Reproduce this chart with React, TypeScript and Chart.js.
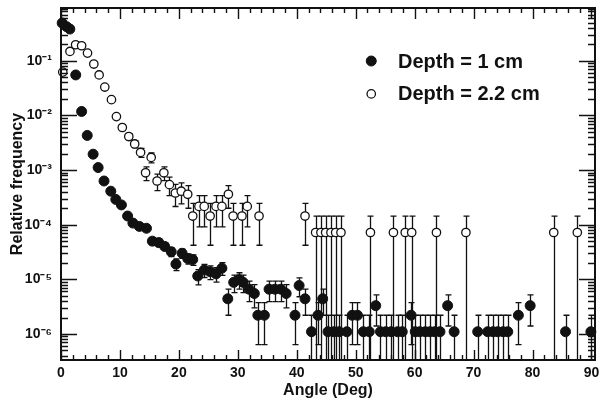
import React, { useEffect, useRef } from "react";
import { Chart, registerables } from "chart.js";

Chart.register(...registerables);

// ---------- Data ----------
const seriesNames = ["Depth = 1 cm", "Depth = 2.2 cm"];

const depth1Angle = [
  0.2, 0.95, 1.5, 2.5, 3.5, 4.45, 5.45, 6.3, 7.3, 8.45, 9.3, 10.25, 11.3, 12.2, 13.3, 14.5,
  15.5, 16.6, 17.6, 18.7, 19.5, 20.55, 21.5, 22.35, 23.2, 24.3, 25.3, 26.3, 27.3, 28.3,
  29.3, 30.2, 30.9, 31.9, 32.8, 33.4, 34.5, 35.3, 36.3, 37.3, 38.2, 39.7, 40.4, 41.4,
  42.5, 43.6, 44.4, 45.3, 46.3, 47.2, 48.5, 49.4, 50.3, 51.3, 52.3, 53.4, 54.2, 55.1,
  56.0, 57.1, 57.9, 59.4, 60.1, 60.9, 61.8, 62.6, 63.4, 64.3, 65.6, 66.7, 70.7, 72.4,
  73.3, 74.1, 75.0, 75.8, 77.6, 79.6, 85.6, 89.9,
];
const depth1Freq = [
  0.49, 0.42, 0.38, 0.055, 0.0118, 0.0043, 0.00195, 0.00111, 6.3e-4, 4.1e-4, 2.9e-4, 2.3e-4,
  1.44e-4, 1.07e-4, 9.3e-5, 8.6e-5, 5.0e-5, 4.7e-5, 4.0e-5, 3.2e-5, 1.9e-5, 3.0e-5, 2.4e-5,
  2.3e-5, 1.15e-5, 1.48e-5, 1.38e-5, 1.26e-5, 1.6e-5, 4.4e-6, 8.8e-6, 9.9e-6, 8.8e-6, 6.6e-6,
  5.5e-6, 2.2e-6, 2.2e-6, 6.6e-6, 6.6e-6, 6.6e-6, 5.5e-6, 2.2e-6, 7.7e-6, 4.4e-6, 1.1e-6,
  2.2e-6, 4.4e-6, 1.1e-6, 1.1e-6, 1.1e-6, 1.1e-6, 2.2e-6, 2.2e-6, 1.1e-6, 1.1e-6, 3.3e-6,
  1.1e-6, 1.1e-6, 1.1e-6, 1.1e-6, 1.1e-6, 2.2e-6, 1.1e-6, 1.1e-6, 1.1e-6, 1.1e-6, 1.1e-6,
  1.1e-6, 3.3e-6, 1.1e-6, 1.1e-6, 1.1e-6, 1.1e-6, 1.1e-6, 1.1e-6, 1.1e-6, 2.2e-6, 3.3e-6,
  1.1e-6, 1.1e-6,
];
const depth1Err = [
  7.3e-4, 6.8e-4, 6.5e-4, 2.5e-4, 1.1e-4, 6.9e-5, 4.6e-5, 3.5e-5, 2.6e-5, 2.1e-5, 1.8e-5, 1.6e-5,
  1.26e-5, 1.08e-5, 1.01e-5, 9.7e-6, 7.4e-6, 7.2e-6, 6.6e-6, 5.9e-6, 4.6e-6, 5.7e-6, 5.1e-6,
  5.0e-6, 3.6e-6, 4.0e-6, 3.9e-6, 3.7e-6, 4.2e-6, 2.2e-6, 3.1e-6, 3.3e-6, 3.1e-6, 2.7e-6,
  2.5e-6, 1.56e-6, 1.56e-6, 2.7e-6, 2.7e-6, 2.7e-6, 2.5e-6, 1.56e-6, 2.9e-6, 2.2e-6, 1.1e-6,
  1.56e-6, 2.2e-6, 1.1e-6, 1.1e-6, 1.1e-6, 1.1e-6, 1.56e-6, 1.56e-6, 1.1e-6, 1.1e-6, 1.9e-6,
  1.1e-6, 1.1e-6, 1.1e-6, 1.1e-6, 1.1e-6, 1.56e-6, 1.1e-6, 1.1e-6, 1.1e-6, 1.1e-6, 1.1e-6,
  1.1e-6, 1.9e-6, 1.1e-6, 1.1e-6, 1.1e-6, 1.1e-6, 1.1e-6, 1.1e-6, 1.1e-6, 1.56e-6, 1.9e-6,
  1.1e-6, 1.1e-6,
];

const depth2Angle = [
  0.3, 1.52, 2.48, 3.5, 4.5, 5.57, 6.47, 7.43, 8.56, 9.4, 10.4, 11.5, 12.5, 13.5, 14.35, 15.3,
  16.3, 17.45, 18.4, 19.4, 20.4, 21.5, 22.35, 23.4, 24.3, 25.3, 26.3, 27.3, 28.4, 29.2, 30.7,
  31.6, 33.6, 41.4, 43.2, 44.1, 44.9, 45.8, 46.6, 47.5, 52.5, 56.4, 58.4, 59.5, 63.7, 68.7,
  83.6, 87.6,
];
const depth2Freq = [
  0.062, 0.148, 0.196, 0.188, 0.138, 0.087, 0.055, 0.033, 0.0194, 0.0095, 0.006, 0.0041, 0.003,
  0.0021, 8.9e-4, 0.0017, 6.3e-4, 8.9e-4, 5.4e-4, 3.8e-4, 4.1e-4, 3.6e-4, 1.44e-4, 2.16e-4,
  2.16e-4, 1.44e-4, 2.16e-4, 2.16e-4, 3.6e-4, 1.44e-4, 1.44e-4, 2.16e-4, 1.44e-4, 1.44e-4,
  7.2e-5, 7.2e-5, 7.2e-5, 7.2e-5, 7.2e-5, 7.2e-5, 7.2e-5, 7.2e-5, 7.2e-5, 7.2e-5, 7.2e-5,
  7.2e-5, 7.2e-5, 7.2e-5,
];
const depth2Err = [
  2.1e-3, 3.3e-3, 3.8e-3, 3.7e-3, 3.2e-3, 2.5e-3, 2.0e-3, 1.54e-3, 1.18e-3, 8.3e-4, 6.6e-4,
  5.4e-4, 4.6e-4, 3.9e-4, 2.5e-4, 3.5e-4, 2.1e-4, 2.5e-4, 2.0e-4, 1.65e-4, 1.7e-4, 1.6e-4,
  1.02e-4, 1.25e-4, 1.25e-4, 1.02e-4, 1.25e-4, 1.25e-4, 1.6e-4, 1.02e-4, 1.02e-4, 1.25e-4,
  1.02e-4, 1.02e-4, 7.2e-5, 7.2e-5, 7.2e-5, 7.2e-5, 7.2e-5, 7.2e-5, 7.2e-5, 7.2e-5, 7.2e-5,
  7.2e-5, 7.2e-5, 7.2e-5, 7.2e-5, 7.2e-5,
];

const xTickValues = [0, 10, 20, 30, 40, 50, 60, 70, 80, 90];
const xTickLabels = ["0", "10", "20", "30", "40", "50", "60", "70", "80", "90"];
const yTickValues = [1e-1, 1e-2, 1e-3, 1e-4, 1e-5, 1e-6];
const yTickLabels = ["10⁻¹", "10⁻²", "10⁻³", "10⁻⁴", "10⁻⁵", "10⁻⁶"];

const xTitle = "Angle (Deg)";
const yTitle = "Relative frequency";

const FONT = "'Liberation Sans', Arial, Helvetica, sans-serif";
const INK = "#111111";

const errorsByDataset = [depth1Err, depth2Err];

const errorBarPlugin = {
  id: "errorBars",
  beforeDatasetsDraw(chart: any) {
    const { ctx, chartArea } = chart;
    const xs = chart.scales.x;
    const ys = chart.scales.y;
    ctx.save();
    ctx.beginPath();
    ctx.rect(chartArea.left, chartArea.top, chartArea.right - chartArea.left, chartArea.bottom - chartArea.top);
    ctx.clip();
    ctx.strokeStyle = INK;
    ctx.lineWidth = 1.3;
    chart.data.datasets.forEach((ds: any, di: number) => {
      const errs = errorsByDataset[di];
      ds.data.forEach((p: any, i: number) => {
        const e = errs[i];
        if (!e) return;
        const px = Math.round(xs.getPixelForValue(p.x)) + 0.5;
        const hi = p.y + e;
        const lo = p.y - e;
        const yHi = ys.getPixelForValue(hi);
        const loValid = lo > ys.min * 1.0001;
        const yLo = loValid ? ys.getPixelForValue(lo) : chartArea.bottom;
        ctx.beginPath();
        ctx.moveTo(px, yHi);
        ctx.lineTo(px, yLo);
        ctx.moveTo(px - 3, yHi);
        ctx.lineTo(px + 3, yHi);
        if (loValid) {
          ctx.moveTo(px - 3, yLo);
          ctx.lineTo(px + 3, yLo);
        }
        ctx.stroke();
      });
    });
    ctx.restore();
  },
};

const framePlugin = {
  id: "frameTicks",
  afterDatasetsDraw(chart: any) {
    const { ctx, chartArea } = chart;
    const { left, right, top, bottom } = chartArea;
    const xs = chart.scales.x;
    const ys = chart.scales.y;
    ctx.save();
    ctx.strokeStyle = INK;
    ctx.lineWidth = 1.4;
    ctx.beginPath();
    xs.ticks.forEach((t: any) => {
      const px = Math.round(xs.getPixelForValue(t.value)) + 0.5;
      const len = t.major ? 10 : 5;
      ctx.moveTo(px, bottom);
      ctx.lineTo(px, bottom - len);
      ctx.moveTo(px, top);
      ctx.lineTo(px, top + len + (t.major ? 1 : 0));
    });
    ys.ticks.forEach((t: any) => {
      const py = Math.round(ys.getPixelForValue(t.value)) + 0.5;
      if (py < top || py > bottom) return;
      const len = t.major ? 16 : 7;
      ctx.moveTo(left, py);
      ctx.lineTo(left + len, py);
      ctx.moveTo(right, py);
      ctx.lineTo(right - len, py);
    });
    ctx.stroke();
    ctx.lineWidth = 2;
    ctx.strokeRect(left, top, right - left, bottom - top);
    ctx.restore();
  },
};

const legendPlugin = {
  id: "insideLegend",
  afterDraw(chart: any) {
    const { ctx, chartArea } = chart;
    const w = chartArea.right - chartArea.left;
    const h = chartArea.bottom - chartArea.top;
    const mx = chartArea.left + w * 0.581;
    const tx = chartArea.left + w * 0.631;
    const rows = [chartArea.top + h * 0.1506, chartArea.top + h * 0.244];
    ctx.save();
    rows.forEach((y, i) => {
      ctx.beginPath();
      ctx.arc(mx, y, i === 0 ? 5 : 4.2, 0, Math.PI * 2);
      ctx.fillStyle = i === 0 ? INK : "#ffffff";
      ctx.fill();
      ctx.lineWidth = i === 0 ? 1 : 1.3;
      ctx.strokeStyle = INK;
      ctx.stroke();
      ctx.fillStyle = INK;
      ctx.font = `bold 20px ${FONT}`;
      ctx.textAlign = "left";
      ctx.textBaseline = "middle";
      ctx.fillText(seriesNames[i], tx, y + 1);
    });
    ctx.restore();
  },
};

function labelFor(values: number[], labels: string[], v: number): string {
  for (let i = 0; i < values.length; i++) {
    const t = values[i];
    if (t === 0 ? Math.abs(v) < 1e-9 : Math.abs(v / t - 1) < 1e-6) return labels[i];
  }
  return "";
}

export default function App() {
  const canvasRef = useRef<HTMLCanvasElement>(null);

  useEffect(() => {
    const canvas = canvasRef.current;
    if (!canvas) return;
    const chart = new Chart(canvas, {
      type: "scatter",
      data: {
        datasets: [
          {
            label: seriesNames[0],
            data: depth1Angle.map((x, i) => ({ x, y: depth1Freq[i] })),
            pointStyle: "circle",
            pointRadius: 5,
            pointBorderWidth: 1,
            pointBackgroundColor: INK,
            pointBorderColor: INK,
            showLine: false,
            clip: false as any,
          },
          {
            label: seriesNames[1],
            data: depth2Angle.map((x, i) => ({ x, y: depth2Freq[i] })),
            pointStyle: "circle",
            pointRadius: 4.2,
            pointBorderWidth: 1.3,
            pointBackgroundColor: "#ffffff",
            pointBorderColor: INK,
            showLine: false,
            clip: false as any,
          },
        ],
      },
      options: {
        animation: false,
        responsive: true,
        maintainAspectRatio: false,
        layout: { padding: { top: 8, right: 3, left: 0, bottom: 0 } },
        plugins: { legend: { display: false }, tooltip: { enabled: false } },
        events: [],
        scales: {
          x: {
            type: "linear",
            min: 0,
            max: 90.6,
            afterBuildTicks: (scale: any) => {
              const ticks: any[] = [];
              for (let v = 0; v <= 90; v += 2) ticks.push({ value: v, major: v % 10 === 0 });
              scale.ticks = ticks;
            },
            afterFit: (scale: any) => {
              scale.height = 41;
              scale.paddingLeft = 0;
              scale.paddingRight = 0;
            },
            grid: { display: false, drawTicks: false },
            border: { display: false },
            ticks: {
              autoSkip: false,
              maxRotation: 0,
              padding: 5,
              color: INK,
              font: { family: FONT, size: 14, weight: "bold" },
              callback: (v: any) => labelFor(xTickValues, xTickLabels, Number(v)),
            },
            title: {
              display: true,
              text: xTitle,
              color: INK,
              font: { family: FONT, size: 16, weight: "bold" },
              padding: { top: 0, bottom: 1 },
            },
          },
          y: {
            type: "logarithmic",
            min: 3.34e-7,
            max: 0.923,
            afterBuildTicks: (scale: any) => {
              const ticks: any[] = [];
              for (let e = -7; e <= 0; e++) {
                for (let s = 1; s <= 9; s++) {
                  const v = s * Math.pow(10, e);
                  if (v >= scale.min && v <= scale.max) ticks.push({ value: v, major: s === 1 });
                }
              }
              scale.ticks = ticks;
            },
            afterFit: (scale: any) => {
              scale.width = 61;
              scale.paddingTop = 0;
              scale.paddingBottom = 0;
            },
            grid: { display: false, drawTicks: false },
            border: { display: false },
            ticks: {
              autoSkip: false,
              padding: 9,
              color: INK,
              font: { family: FONT, size: 14, weight: "bold" },
              callback: (v: any) => labelFor(yTickValues, yTickLabels, Number(v)),
            },
            title: {
              display: true,
              text: yTitle,
              color: INK,
              font: { family: FONT, size: 16, weight: "bold" },
              padding: { top: 8, bottom: 0 },
            },
          },
        },
      } as any,
      plugins: [errorBarPlugin, framePlugin, legendPlugin],
    });
    return () => chart.destroy();
  }, []);

  return (
    <div style={{ position: "fixed", left: 0, top: 0, width: 601, height: 401, background: "#ffffff" }}>
      <canvas ref={canvasRef} />
    </div>
  );
}
